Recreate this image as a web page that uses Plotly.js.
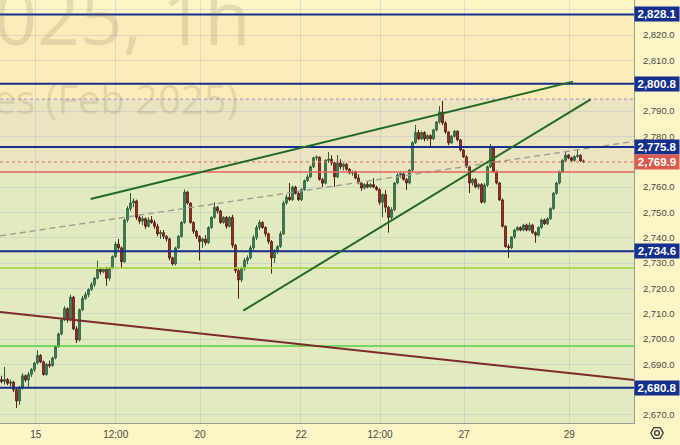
<!DOCTYPE html>
<html>
<head>
<meta charset="utf-8">
<script src="https://cdn.plot.ly/plotly-3.0.1.min.js"></script>
<style>html,body{margin:0;padding:0;background:#fdf5c6;}#chart{width:680px;height:445px;}</style>
</head>
<body>
<div id="chart"></div>
<script>
// ---- candle data (hourly, GC Feb 2025) ----
const open = [
2684.0,2683.2,2684.0,2682.5,2683.0,2680.0,2675.5,2681.0,2685.5,2683.8,
2686.0,2688.0,2690.5,2693.5,2691.0,2686.0,2690.0,2689.5,2692.5,2697.0,
2702.0,2707.5,2712.0,2707.5,2716.5,2704.0,2699.6,2711.5,2716.0,2717.5,
2719.5,2721.5,2724.0,2727.5,2726.5,2727.5,2724.0,2728.0,2732.5,2737.5,
2736.0,2730.5,2747.0,2751.5,2753.7,2754.5,2748.0,2746.5,2747.5,2744.5,
2747.0,2746.0,2744.5,2741.5,2742.0,2740.5,2739.5,2732.0,2729.6,2736.0,
2740.5,2746.0,2758.0,2753.7,2746.0,2742.5,2740.5,2738.5,2739.5,2738.0,
2744.0,2748.0,2752.0,2750.5,2746.0,2748.0,2744.5,2748.0,2737.0,2727.0,
2723.3,2728.0,2731.0,2732.0,2736.0,2740.0,2744.0,2746.0,2744.0,2741.5,
2738.5,2732.0,2735.0,2736.5,2741.5,2753.7,2756.0,2755.0,2760.0,2757.5,
2755.0,2759.0,2762.5,2764.0,2768.0,2771.5,2771.8,2763.0,2761.5,2770.5,
2771.0,2769.5,2764.0,2769.5,2768.0,2769.0,2767.0,2765.5,2766.0,2763.6,
2761.6,2759.6,2761.0,2760.0,2761.0,2760.0,2759.0,2754.0,2757.0,2752.0,
2748.0,2751.0,2761.6,2764.7,2765.2,2763.0,2761.6,2766.7,2777.5,2781.5,
2779.0,2781.5,2779.0,2780.3,2779.0,2782.5,2785.7,2789.6,2785.3,2781.7,
2777.4,2780.0,2782.0,2778.6,2774.6,2771.9,2768.0,2761.6,2763.0,2760.0,
2761.0,2754.0,2760.8,2768.0,2775.8,2766.0,2761.6,2754.9,2744.5,2736.5,
2736.0,2740.3,2743.0,2744.0,2743.0,2745.0,2743.0,2745.0,2742.0,2741.0,
2744.0,2747.0,2745.5,2747.5,2751.5,2757.5,2761.6,2766.0,2770.5,2772.6,
2771.5,2770.5,2772.0,2772.5,2770.3];
const high = [
2685.5,2689.0,2684.6,2684.0,2683.5,2680.8,2681.5,2686.5,2686.0,2687.0,
2688.5,2691.0,2695.5,2694.0,2691.5,2690.5,2691.5,2693.0,2697.5,2702.5,
2708.0,2713.0,2712.5,2717.5,2717.0,2705.0,2712.0,2717.0,2718.5,2720.0,
2722.5,2724.5,2731.0,2728.0,2728.0,2728.5,2728.5,2733.0,2738.5,2739.5,
2736.5,2747.5,2752.5,2757.6,2755.5,2755.0,2749.0,2748.5,2748.0,2748.0,
2748.5,2747.0,2745.5,2743.0,2743.0,2741.0,2740.0,2732.5,2736.5,2741.0,
2746.5,2759.0,2758.5,2754.0,2746.5,2743.0,2741.0,2740.0,2741.0,2744.5,
2748.5,2754.0,2752.5,2751.0,2748.5,2748.5,2748.5,2749.0,2737.5,2728.0,
2728.5,2732.0,2733.0,2737.0,2741.0,2745.0,2747.0,2746.5,2744.5,2742.0,
2739.0,2735.5,2737.0,2742.5,2754.5,2757.0,2761.6,2760.5,2760.5,2758.0,
2759.5,2763.0,2765.0,2768.5,2772.0,2772.5,2772.0,2763.5,2771.0,2773.8,
2772.5,2770.0,2772.6,2771.0,2769.5,2769.5,2767.5,2766.5,2766.5,2765.0,
2762.0,2761.5,2762.0,2761.5,2763.5,2760.5,2759.5,2757.5,2758.8,2752.5,
2752.0,2762.0,2765.5,2766.0,2765.5,2763.5,2767.0,2778.0,2784.5,2782.5,
2782.0,2782.0,2780.8,2780.8,2783.0,2786.0,2792.0,2794.0,2786.0,2782.0,
2780.5,2782.5,2782.5,2779.0,2775.0,2772.5,2768.5,2763.5,2763.5,2761.5,
2761.5,2761.5,2768.5,2777.0,2776.0,2766.5,2762.0,2755.5,2745.0,2737.5,
2740.5,2743.5,2744.5,2744.5,2745.5,2745.5,2746.0,2745.5,2742.5,2744.5,
2747.5,2747.5,2748.0,2752.0,2758.0,2762.0,2766.5,2771.0,2773.8,2773.0,
2772.0,2772.5,2775.0,2773.0,2770.8];
const low = [
2682.5,2682.0,2681.8,2681.0,2679.0,2672.8,2674.0,2680.0,2683.0,2680.5,
2685.0,2687.0,2690.0,2690.5,2685.5,2685.5,2688.5,2689.0,2692.0,2696.5,
2701.5,2707.0,2706.5,2707.0,2703.5,2698.4,2699.0,2711.0,2715.5,2716.5,
2719.0,2720.5,2723.5,2725.5,2726.0,2721.0,2723.0,2727.5,2732.0,2735.0,
2728.0,2730.0,2746.0,2750.5,2752.0,2747.0,2745.5,2745.0,2743.5,2744.0,
2745.5,2743.5,2740.5,2739.5,2739.5,2738.5,2731.0,2729.0,2729.0,2735.5,
2740.0,2745.5,2753.0,2745.5,2741.5,2739.5,2731.0,2736.0,2737.0,2737.5,
2743.5,2747.5,2749.5,2745.5,2745.5,2743.5,2744.0,2736.0,2726.0,2716.0,
2722.5,2727.0,2729.5,2731.5,2735.0,2739.0,2743.0,2743.5,2740.5,2737.5,
2725.8,2730.0,2733.5,2736.0,2741.0,2753.0,2754.5,2754.5,2757.0,2754.5,
2754.5,2758.5,2762.0,2763.5,2767.5,2770.5,2762.5,2760.0,2761.0,2769.5,
2768.5,2760.0,2763.5,2767.0,2766.5,2766.5,2765.0,2764.5,2763.0,2761.0,
2758.5,2759.0,2759.5,2759.5,2759.5,2758.5,2753.0,2748.0,2750.0,2742.0,
2747.0,2750.5,2761.0,2763.5,2762.5,2758.8,2761.0,2766.0,2777.0,2778.5,
2778.5,2778.0,2778.2,2776.0,2778.5,2782.0,2785.0,2784.5,2781.0,2776.5,
2777.0,2779.5,2778.0,2774.0,2771.5,2767.5,2757.6,2760.5,2759.5,2759.0,
2753.5,2753.5,2760.0,2767.5,2765.5,2761.0,2754.5,2744.0,2736.0,2732.0,
2735.5,2739.5,2742.5,2742.5,2742.5,2742.5,2742.5,2741.5,2738.0,2740.5,
2743.5,2745.0,2745.0,2747.0,2751.0,2757.0,2761.0,2765.5,2770.0,2771.0,
2770.0,2770.0,2771.5,2770.0,2769.5];
const close = [
2683.2,2684.0,2682.5,2683.0,2680.0,2675.5,2681.0,2685.5,2683.8,2686.0,
2688.0,2690.5,2693.5,2691.0,2686.0,2690.0,2689.5,2692.5,2697.0,2702.0,
2707.5,2712.0,2707.5,2716.5,2704.0,2699.6,2711.5,2716.0,2717.5,2719.5,
2721.5,2724.0,2727.5,2726.5,2727.5,2724.0,2728.0,2732.5,2737.5,2736.0,
2730.5,2747.0,2751.5,2753.7,2754.5,2748.0,2746.5,2747.5,2744.5,2747.0,
2746.0,2744.5,2741.5,2742.0,2740.5,2739.5,2732.0,2729.6,2736.0,2740.5,
2746.0,2758.0,2753.7,2746.0,2742.5,2740.5,2738.5,2739.5,2738.0,2744.0,
2748.0,2752.0,2750.5,2746.0,2748.0,2744.5,2748.0,2737.0,2727.0,2723.3,
2728.0,2731.0,2732.0,2736.0,2740.0,2744.0,2746.0,2744.0,2741.5,2738.5,
2732.0,2735.0,2736.5,2741.5,2753.7,2756.0,2755.0,2760.0,2757.5,2755.0,
2759.0,2762.5,2764.0,2768.0,2771.5,2771.8,2763.0,2761.5,2770.5,2771.0,
2769.5,2764.0,2769.5,2768.0,2769.0,2767.0,2765.5,2766.0,2763.6,2761.6,
2759.6,2761.0,2760.0,2761.0,2760.0,2759.0,2754.0,2757.0,2752.0,2748.0,
2751.0,2761.6,2764.7,2765.2,2763.0,2761.6,2766.7,2777.5,2781.5,2779.0,
2781.5,2779.0,2780.3,2779.0,2782.5,2785.7,2789.6,2785.3,2781.7,2777.4,
2780.0,2782.0,2778.6,2774.6,2771.9,2768.0,2761.6,2763.0,2760.0,2761.0,
2754.0,2760.8,2768.0,2775.8,2766.0,2761.6,2754.9,2744.5,2736.5,2736.0,
2740.3,2743.0,2744.0,2743.0,2745.0,2743.0,2745.0,2742.0,2741.0,2744.0,
2747.0,2745.5,2747.5,2751.5,2757.5,2761.6,2766.0,2770.5,2772.6,2771.5,
2770.5,2772.0,2772.5,2770.3,2769.9];

// ---- x axis ticks (candle index positions) ----
const tickIdx  = [11.4, 38.07, 66.17, 99.83, 126.17, 154.17, 189.27];
const tickText = ['15', '12:00', '20', '22', '12:00', '27', '29'];

// ---- y axis tick values (those not hidden behind price badges) ----
const yTickVals = [2670, 2690, 2700, 2710, 2720, 2730, 2740, 2750, 2760, 2780, 2790, 2810, 2820, 2830];

// ---- price levels / drawings ----
const blueLevels  = [2828.1, 2800.8, 2775.8, 2734.6, 2680.8];
const lastPrice   = 2769.9;
const redLevel    = 2765.9;
const purpleLevel = 2794.7;
const limeLevel   = 2728.0;
const greenLevel  = 2697.2;
const zoneUpper   = [2794.7, 2828.1];
const zoneMiddle  = [2765.9, 2794.7];
const zoneLower   = [2600.0, 2765.9];
const brownLineX  = [-0.5, 210.83],  brownLineY  = [2710.7, 2683.8];
const upGreenX    = [29.7, 190.5],   upGreenY    = [2755.3, 2801.6];
const loGreenX    = [80.6, 196.4],   loGreenY    = [2711.2, 2794.6];
const dashX       = [-0.5, 210.83],  dashY       = [2740.7, 2778.0];

const xRange = [-0.5, 210.83];
const yRange = [2666.84, 2833.82];

const idx = close.map((_, i) => i);

const candles = {
  type: 'candlestick', x: idx, open: open, high: high, low: low, close: close,
  increasing: {line: {color: '#2c5f40', width: 1}, fillcolor: '#3f8f5f'},
  decreasing: {line: {color: '#5a1b13', width: 1}, fillcolor: '#b8352b'},
  whiskerwidth: 0, hoverinfo: 'skip', showlegend: false
};

const shapes = [];
function hline(v, color, width, dash) {
  shapes.push({type: 'line', xref: 'paper', x0: 0, x1: 1, yref: 'y', y0: v, y1: v,
    line: {color: color, width: width, dash: dash || 'solid'}, layer: 'above'});
}
function zone(r, color) {
  shapes.push({type: 'rect', xref: 'paper', x0: 0, x1: 1, yref: 'y', y0: r[0], y1: r[1],
    fillcolor: color, line: {width: 0}, layer: 'below'});
}
function seg(xs, ys, color, width, dash) {
  shapes.push({type: 'line', xref: 'x', yref: 'y', x0: xs[0], x1: xs[1], y0: ys[0], y1: ys[1],
    line: {color: color, width: width, dash: dash || 'solid'}, layer: 'above'});
}
zone(zoneUpper, '#fdebb8');
zone(zoneMiddle, '#ebe4c0');
zone(zoneLower, '#e2eabf');
seg(dashX, dashY, '#9e9e96', 1.4, '6px,4px');
hline(purpleLevel, '#b49ad6', 1.2, 'dot');
hline(lastPrice, '#e2665c', 1, 'dot');
hline(redLevel, '#e2665c', 1.6);
hline(limeLevel, '#a5d337', 1.5);
hline(greenLevel, '#55d040', 1.5);
blueLevels.forEach(v => hline(v, '#142f8d', 2));
seg(brownLineX, brownLineY, '#7a2b2b', 2);
seg(upGreenX, upGreenY, '#1f6b24', 2);
seg(loGreenX, loGreenY, '#1f6b24', 2);

// settings icon (hexagon + circle) in pixel -> paper coords
const PW = 634, PH = 423;
function px(x) { return x / PW; }
function py(y) { return 1 - y / PH; }
(function () {
  const cx = 657, cy = 433, r = 6.2;
  let d = '';
  for (let k = 0; k < 6; k++) {
    const a = Math.PI / 3 * k;
    d += (k ? ' L ' : 'M ') + px(cx + r * Math.cos(a)).toFixed(5) + ',' + py(cy + r * Math.sin(a)).toFixed(5);
  }
  d += ' Z';
  shapes.push({type: 'path', xref: 'paper', yref: 'paper', path: d, line: {color: '#3a3a3a', width: 1.3}});
  shapes.push({type: 'circle', xref: 'paper', yref: 'paper', x0: px(cx - 2.4), x1: px(cx + 2.4),
    y0: py(cy + 2.4), y1: py(cy - 2.4), line: {color: '#3a3a3a', width: 1.3}});
})();

function fmt(v) { return v.toLocaleString('en-US', {minimumFractionDigits: 1, maximumFractionDigits: 1}); }

const annotations = [];
function badge(v, color) {
  annotations.push({xref: 'paper', x: 1, xanchor: 'left', yref: 'y', y: v, yanchor: 'middle',
    text: '<b>' + fmt(v) + '</b>', showarrow: false, bgcolor: color, borderpad: 1,
    width: 42, height: 12, align: 'center',
    font: {color: '#ffffff', size: 11.5, family: 'Liberation Sans, Arial, sans-serif'}});
}
blueLevels.forEach(v => badge(v, '#142f8d'));
badge(lastPrice, '#dd5a4e');

// watermark
annotations.push({xref: 'paper', yref: 'paper', x: 253 / PW, y: py(69), xanchor: 'right', yanchor: 'bottom',
  text: 'GCG2025, 1h', showarrow: false,
  font: {family: 'Open Sans, sans-serif', size: 75, color: 'rgba(110,100,70,0.17)'}});
annotations.push({xref: 'paper', yref: 'paper', x: 240 / PW, y: py(128), xanchor: 'right', yanchor: 'bottom',
  text: 'Gold Futures (Feb 2025)', showarrow: false,
  font: {family: 'Open Sans, sans-serif', size: 40, color: 'rgba(110,100,70,0.17)'}});

const layout = {
  width: 680, height: 445,
  margin: {l: 0, r: 46, t: 0, b: 22, pad: 0},
  paper_bgcolor: '#fdf5c6', plot_bgcolor: '#fdf5c6',
  showlegend: false, boxgap: 0.2,
  xaxis: {range: xRange, autorange: false, rangeslider: {visible: false},
    tickmode: 'array', tickvals: tickIdx, ticktext: tickText,
    showgrid: true, gridcolor: 'rgba(150,170,205,0.28)', gridwidth: 1,
    zeroline: false, showline: true, linecolor: '#9d9b8c', linewidth: 1,
    ticks: '', ticklabelstandoff: 2,
    tickfont: {family: 'Liberation Sans, Arial, sans-serif', size: 10, color: '#4a4a4a'},
    fixedrange: true},
  yaxis: {range: yRange, autorange: false, side: 'right',
    tickmode: 'array', tickvals: yTickVals,
    tickformat: ',.1f', showgrid: true, gridcolor: 'rgba(150,170,205,0.28)', gridwidth: 1,
    zeroline: false, showline: true, linecolor: '#9d9b8c', linewidth: 1,
    ticks: '', ticklabelstandoff: 6,
    tickfont: {family: 'Liberation Sans, Arial, sans-serif', size: 9.5, color: '#4a4a4a'},
    fixedrange: true},
  shapes: shapes,
  annotations: annotations
};

Plotly.newPlot('chart', [candles], layout, {displayModeBar: false, staticPlot: true});
</script>
</body>
</html>
